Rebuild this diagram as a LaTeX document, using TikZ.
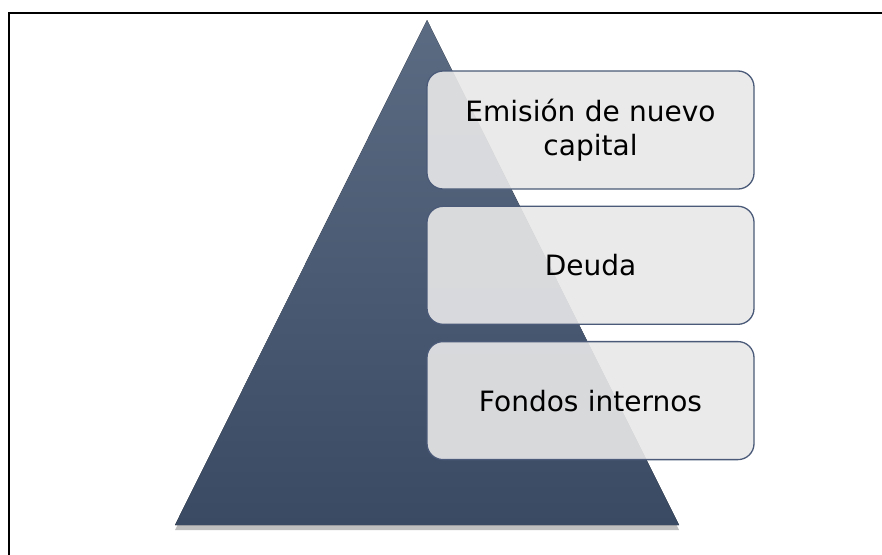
\documentclass[tikz,border=0pt]{standalone}
\usepackage{fontspec}
\setmainfont{DejaVu Sans}
\usepackage{xcolor}
\usepackage{tikz}
\usetikzlibrary{positioning, shadows}

\definecolor{slatetop}{HTML}{5B6B82}
\definecolor{slatebot}{HTML}{3A4A63}
\definecolor{boxedge}{HTML}{4A5A78}
\definecolor{boxfill}{HTML}{E8E8E8}

\begin{document}
\begin{tikzpicture}[
    x=1pt, y=-1pt,
    node distance=16pt,
    level/.style={rectangle, rounded corners=16pt, draw=boxedge, line width=1.3pt, fill=boxfill, fill opacity=0.9, text opacity=1, minimum width=327pt, minimum height=118pt, text width=300pt, align=center, inner sep=0pt, font=\fontsize{28}{33.6}\selectfont},
    pyramid/.style={top color=slatetop, bottom color=slatebot, drop shadow={shadow xshift=0pt, shadow yshift=-5pt, opacity=0.5, fill=gray}},
    frame/.style={draw=black, line width=2.4pt}
]

\useasboundingbox (0,0) rectangle (882,554);
\draw[frame] (9,560) -- (9,13) -- (890,13);

% pyramid
\coordinate (apex) at (427,20);
\coordinate (baseL) at (175,525);
\coordinate (baseR) at (679,525);
\fill[pyramid] (apex) -- (baseR) -- (baseL) -- cycle;

% levels
\node[level] (capital) at (590.5,130) {Emisión de nuevo\\capital};
\node[level, below=of capital] (deuda) {Deuda};
\node[level, below=of deuda] (fondos) {Fondos internos};

\end{tikzpicture}
\end{document}
